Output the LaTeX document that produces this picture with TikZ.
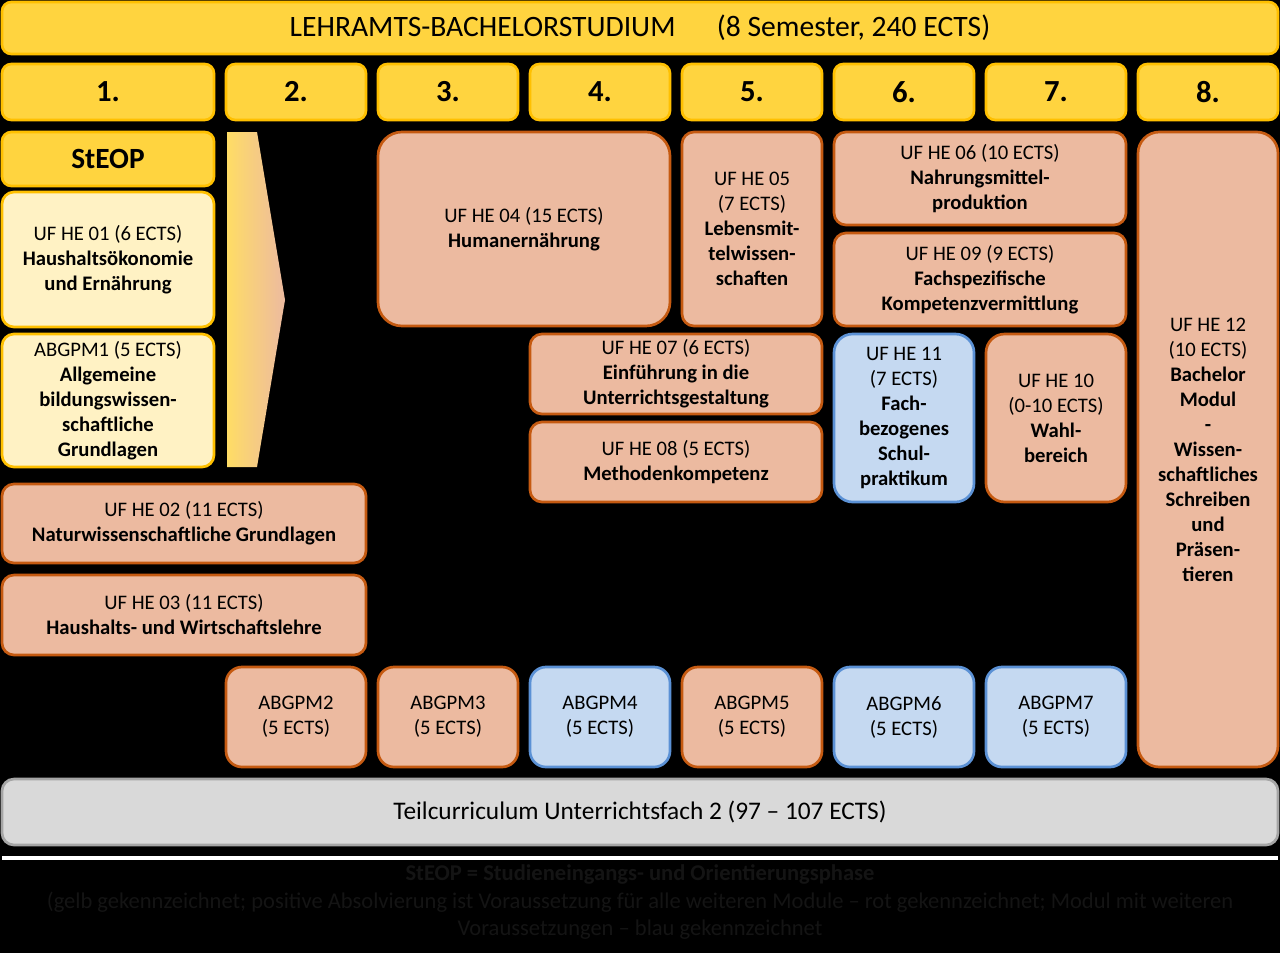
\documentclass[tikz,border=0pt]{standalone}
\usepackage{fontspec}
\setmainfont{Carlito}
\usepackage{tikz}
\usepackage{xcolor}

\definecolor{gelb}{RGB}{255,212,63}
\definecolor{gelbrand}{RGB}{255,192,0}
\definecolor{hellgelb}{RGB}{255,242,196}
\definecolor{lachs}{RGB}{236,186,160}
\definecolor{lachsrand}{RGB}{197,90,17}
\definecolor{hellblau}{RGB}{197,217,241}
\definecolor{blaurand}{RGB}{91,145,213}
\definecolor{grau}{RGB}{217,217,217}
\definecolor{graurand}{RGB}{165,165,165}
\definecolor{legende}{RGB}{20,20,20}

\tikzset{
    modul/.style={draw, rounded corners=9pt, line width=2pt, align=center, inner sep=2pt, font=\fontsize{15.5}{18.75}\selectfont},
    modul_gelb/.style={modul, fill=hellgelb, draw=gelbrand},
    modul_rot/.style={modul, fill=lachs, draw=lachsrand},
    modul_blau/.style={modul, fill=hellblau, draw=blaurand},
    semester/.style={modul, rounded corners=7pt, fill=gelb, draw=gelbrand, font=\fontsize{23}{26}\selectfont\bfseries},
    groesse/.style 2 args={minimum width=#1*0.75pt, minimum height=#2*0.75pt}
}

\begin{document}
\begin{tikzpicture}[x=0.75pt,y=-0.75pt]

        \fill[black] (0,0) rectangle (1280,953);
        \useasboundingbox (0,0) rectangle (1280,953);

        \node[semester, font=\fontsize{22.2}{26}\selectfont, groesse={1276}{52}] (titel) at (640,28)
            {LEHRAMTS-BACHELORSTUDIUM\hspace{31pt}(8 Semester, 240 ECTS)};

        \node[semester, groesse={212}{56}] (sem1) at (108,92) {1.};
        \foreach \i [evaluate=\i as \x using 296+(\i-2)*152] in {2,...,8} {
            \node[semester, groesse={140}{56}] (sem\i) at (\x,92) {\i.};
        }

        \node[semester, font=\fontsize{22}{26}\selectfont\bfseries, groesse={212}{54}] (steop) at (108,159) {StEOP};
        \node[modul_gelb, groesse={212}{135}] (he01) at (108,259.5)
            {UF HE 01 (6 ECTS)\\\textbf{Haushaltsökonomie}\\\textbf{und Ernährung}};
        \node[modul_gelb, groesse={212}{133}] (abgpm1) at (108,400.5)
            {ABGPM1 (5 ECTS)\\\textbf{Allgemeine}\\\textbf{bildungswissen-}\\\textbf{schaftliche}\\\textbf{Grundlagen}};

        \shade[left color=gelb!80!white, right color=lachs] (227,132) -- (257,132) -- (285,300) -- (257,467) -- (227,467) -- cycle;

        \node[modul_rot, rounded corners=18pt, groesse={292}{194}] (he04) at (524,229)
            {UF HE 04 (15 ECTS)\\\textbf{Humanernährung}};
        \node[modul_rot, groesse={140}{194}] (he05) at (752,229)
            {UF HE 05\\(7 ECTS)\\\textbf{Lebensmit-}\\\textbf{telwissen-}\\\textbf{schaften}};
        \node[modul_rot, groesse={292}{93}] (he06) at (980,178.5)
            {UF HE 06 (10 ECTS)\\\textbf{Nahrungsmittel-}\\\textbf{produktion}};
        \node[modul_rot, groesse={292}{93}] (he09) at (980,279.5)
            {UF HE 09 (9 ECTS)\\\textbf{Fachspezifische}\\\textbf{Kompetenzvermittlung}};
        \node[modul_rot, groesse={292}{80}] (he07) at (676,374)
            {UF HE 07 (6 ECTS)\\\textbf{Einführung in die}\\\textbf{Unterrichtsgestaltung}};
        \node[modul_rot, groesse={292}{80}] (he08) at (676,462)
            {UF HE 08 (5 ECTS)\\\textbf{Methodenkompetenz}};
        \node[modul_blau, rounded corners=14pt, groesse={140}{168}] (he11) at (904,418)
            {UF HE 11\\(7 ECTS)\\\textbf{Fach-}\\\textbf{bezogenes}\\\textbf{Schul-}\\\textbf{praktikum}};
        \node[modul_rot, rounded corners=14pt, groesse={140}{168}] (he10) at (1056,418)
            {UF HE 10\\(0-10 ECTS)\\\textbf{Wahl-}\\\textbf{bereich}};
        \node[modul_rot, rounded corners=16pt, groesse={140}{635}] (he12) at (1208,449.5)
            {UF HE 12\\(10 ECTS)\\\textbf{Bachelor}\\\textbf{Modul}\\\textbf{-}\\\textbf{Wissen-}\\\textbf{schaftliches}\\\textbf{Schreiben}\\\textbf{und}\\\textbf{Präsen-}\\\textbf{tieren}};
        \node[modul_rot, groesse={364}{79}] (he02) at (184,523.5)
            {UF HE 02 (11 ECTS)\\\textbf{Naturwissenschaftliche Grundlagen}};
        \node[modul_rot, groesse={364}{80}] (he03) at (184,615)
            {UF HE 03 (11 ECTS)\\\textbf{Haushalts- und Wirtschaftslehre}};

        \foreach \i/\farbe [evaluate=\i as \x using 296+(\i-2)*152] in {2/rot,3/rot,4/blau,5/rot,6/blau,7/blau} {
            \node[modul_\farbe, rounded corners=12pt, groesse={140}{100}] (abgpm\i) at (\x,717) {ABGPM\i\\(5 ECTS)};
        }

        \node[modul, fill=grau, draw=graurand, font=\fontsize{19}{22}\selectfont, groesse={1276}{66}] (teil) at (640,812)
            {Teilcurriculum Unterrichtsfach 2 (97 – 107 ECTS)};

        \draw[white, line width=2.5pt] (2,858) -- (1278,858);

        \node[align=center, text=legende, font=\fontsize{16.9}{20.25}\selectfont] (legende) at (640,902)
            {\textbf{StEOP = Studieneingangs- und Orientierungsphase}\\(gelb gekennzeichnet; positive Absolvierung ist Voraussetzung für alle weiteren Module – rot gekennzeichnet; Modul mit weiteren\\Voraussetzungen – blau gekennzeichnet};

    \end{tikzpicture}
\end{document}
